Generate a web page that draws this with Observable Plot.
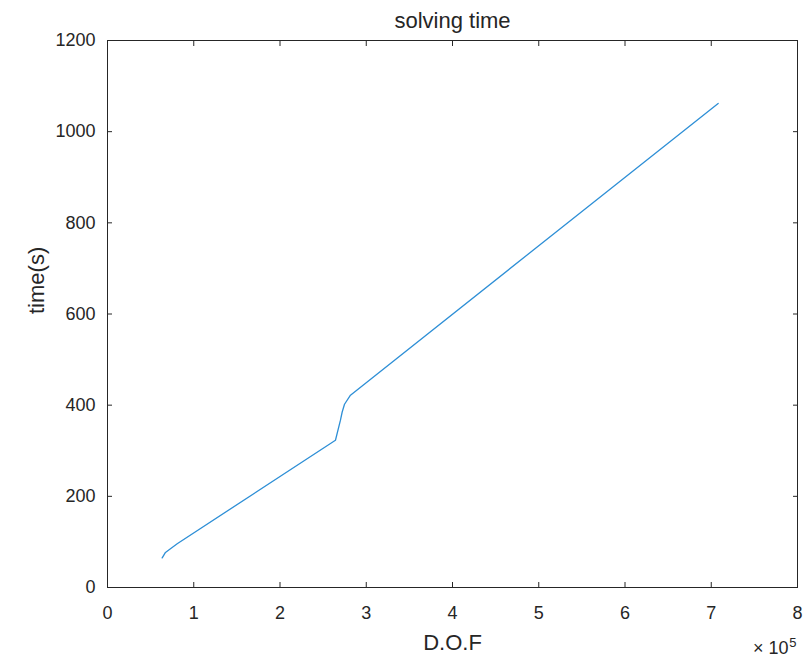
<!DOCTYPE html>
<html>
<head>
<meta charset="utf-8">
<script src="https://cdn.jsdelivr.net/npm/d3@7"></script>
<script src="https://cdn.jsdelivr.net/npm/@observablehq/plot@0.6"></script>
<style>
  html, body { margin: 0; padding: 0; background: #fff; }
  #chart { width: 804px; height: 658px; }
</style>
</head>
<body>
<div id="chart"></div>
<script>
// Data
const dof = [63400, 67200, 73000, 80800, 264300, 270100, 272100, 274800, 281700, 708000];
const timeSec = [65, 77, 85, 96, 323, 367, 385, 402, 422, 1062];
const xTicks = [0, 100000, 200000, 300000, 400000, 500000, 600000, 700000, 800000];
const xTickLabels = ["0", "1", "2", "3", "4", "5", "6", "7", "8"];
const yTicks = [0, 200, 400, 600, 800, 1000, 1200];
const titleText = "solving time";
const xLabel = "D.O.F";
const yLabel = "time(s)";
const expBase = "\u00d7 10";
const expPower = "5";

const data = dof.map((d, i) => ({dof: d, time: timeSec[i]}));
const ink = "#262626";
const labelStyle = {fontSize: 22, fill: ink, letterSpacing: "1px"};

const chart = Plot.plot({
  width: 804,
  height: 658,
  marginLeft: 107,
  marginRight: 7,
  marginTop: 40,
  marginBottom: 71,
  style: {fontFamily: "'Liberation Sans', Arial, sans-serif", fontSize: "18px", color: ink, background: "#fff"},
  x: {domain: [0, 800000]},
  y: {domain: [0, 1200]},
  marks: [
    Plot.frame({stroke: ink, strokeWidth: 1}),
    // tick labels
    Plot.axisX(xTicks, {anchor: "bottom", tickSize: 0, tickPadding: 19, tickFormat: (d, i) => xTickLabels[i], fill: ink, label: null}),
    Plot.axisY(yTicks, {anchor: "left", tickSize: 0, tickPadding: 12, tickFormat: d3.format("d"), fill: ink, label: null}),
    // inward ticks on all four sides
    Plot.axisX(xTicks, {anchor: "bottom", tickSize: 5, dy: -5, tickFormat: () => "", stroke: ink, label: null}),
    Plot.axisX(xTicks, {anchor: "top", tickSize: 5, dy: 5, tickFormat: () => "", stroke: ink, label: null}),
    Plot.axisY(yTicks, {anchor: "left", tickSize: 5, dx: 5, tickFormat: () => "", stroke: ink, label: null}),
    Plot.axisY(yTicks, {anchor: "right", tickSize: 5, dx: -5, tickFormat: () => "", stroke: ink, label: null}),
    // data line
    Plot.line(data, {x: "dof", y: "time", stroke: "#2e8fd6", strokeWidth: 1.3}),
    // title and axis labels
    Plot.text([titleText], {frameAnchor: "top", dy: -13, lineAnchor: "bottom", ...labelStyle}),
    Plot.text([xLabel], {frameAnchor: "bottom", dy: 62, lineAnchor: "bottom", ...labelStyle}),
    Plot.text([yLabel], {frameAnchor: "left", dx: -64, rotate: -90, lineAnchor: "bottom", ...labelStyle}),
    // exponent label
    Plot.text([expBase], {frameAnchor: "bottom-right", textAnchor: "end", dx: -9, dy: 66, lineAnchor: "bottom", fontSize: 18, fill: ink}),
    Plot.text([expPower], {frameAnchor: "bottom-right", textAnchor: "end", dx: -1, dy: 59, lineAnchor: "bottom", fontSize: 13, fill: ink})
  ]
});
document.getElementById("chart").appendChild(chart);
</script>
</body>
</html>
